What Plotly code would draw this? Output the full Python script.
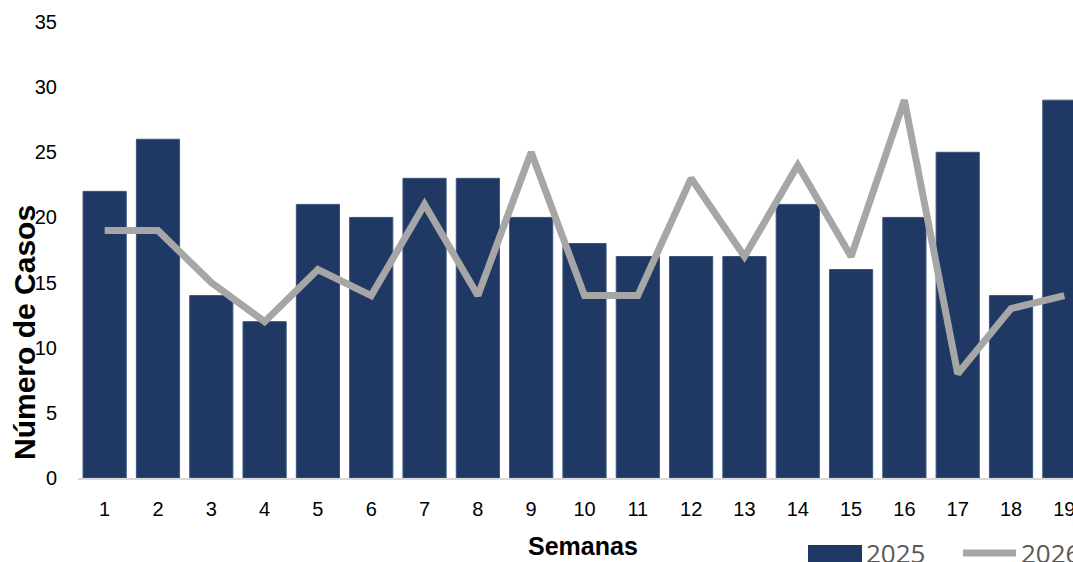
import plotly.graph_objects as go

semanas = [str(i) for i in range(1, 20)]
casos_2025 = [22, 26, 14, 12, 21, 20, 23, 23, 20, 18, 17, 17, 17, 21, 16, 20, 25, 14, 29]
casos_2026 = [19, 19, 15, 12, 16, 14, 21, 14, 25, 14, 14, 23, 17, 24, 17, 29, 8, 13, 14]
y_ticks = [0, 5, 10, 15, 20, 25, 30, 35]

BAR_COLOR = "#203864"
LINE_COLOR = "#A6A6A6"
FONT = "Liberation Sans, Arial, sans-serif"

W, H = 1100, 562
ML, MR, MT, MB = 78, 9, 22, 84
PW, PH = W - ML - MR, H - MT - MB

def px_x(x):
    return (x - ML) / PW

def px_y(y):
    return (H - MB - y) / PH

fig = go.Figure()
fig.add_trace(go.Bar(
    x=semanas, y=casos_2025, name="2025",
    marker=dict(color=BAR_COLOR, line=dict(color="#3E5479", width=1)),
    showlegend=False,
))
fig.add_trace(go.Scatter(
    x=semanas, y=casos_2026, name="2026", mode="lines",
    line=dict(color=LINE_COLOR, width=7),
    showlegend=False,
))

# custom legend (bottom right)
shapes = [
    dict(type="rect", xref="paper", yref="paper",
         x0=px_x(808), x1=px_x(862), y0=px_y(564), y1=px_y(545),
         fillcolor=BAR_COLOR, line=dict(width=0)),
    dict(type="line", xref="paper", yref="paper",
         x0=px_x(963), x1=px_x(1016), y0=px_y(553), y1=px_y(553),
         line=dict(color=LINE_COLOR, width=7)),
]
annotations = [
    dict(text="2025", xref="paper", yref="paper", x=px_x(864), y=px_y(553),
         xanchor="left", yanchor="middle", showarrow=False,
         font=dict(family="Open Sans, sans-serif", size=26, color="#595959")),
    dict(text="2026", xref="paper", yref="paper", x=px_x(1019), y=px_y(553),
         xanchor="left", yanchor="middle", showarrow=False,
         font=dict(family="Open Sans, sans-serif", size=26, color="#595959")),
    dict(text="<b>Número de Casos</b>", xref="paper", yref="paper",
         x=px_x(24), y=px_y(333), textangle=-90, showarrow=False,
         xanchor="center", yanchor="middle",
         font=dict(family=FONT, size=30, color="black")),
    dict(text="<b>Semanas</b>", xref="paper", yref="paper",
         x=px_x(583), y=px_y(546), showarrow=False,
         xanchor="center", yanchor="middle",
         font=dict(family=FONT, size=25, color="black")),
]

fig.update_layout(
    width=W, height=H,
    margin=dict(l=ML, r=MR, t=MT, b=MB),
    paper_bgcolor="white", plot_bgcolor="white",
    bargap=0.19,
    font=dict(family=FONT, size=20, color="black"),
    shapes=shapes, annotations=annotations,
    xaxis=dict(
        type="category", range=[-0.5, 18.5],
        showgrid=False, showline=True, linecolor="#D9D9D9", linewidth=2,
        ticks="", ticklabelstandoff=12,
        tickfont=dict(size=20, color="black"),
    ),
    yaxis=dict(
        range=[0, 35], tickvals=y_ticks, showgrid=False, zeroline=False,
        showline=False, ticks="", ticklabelstandoff=20,
        tickfont=dict(size=20, color="black"),
    ),
)

fig.write_html(
    "out.html",
    config={"displayModeBar": False},
    post_script="document.body.style.margin='0';document.body.style.overflow='hidden';document.documentElement.style.overflow='hidden';",
)
